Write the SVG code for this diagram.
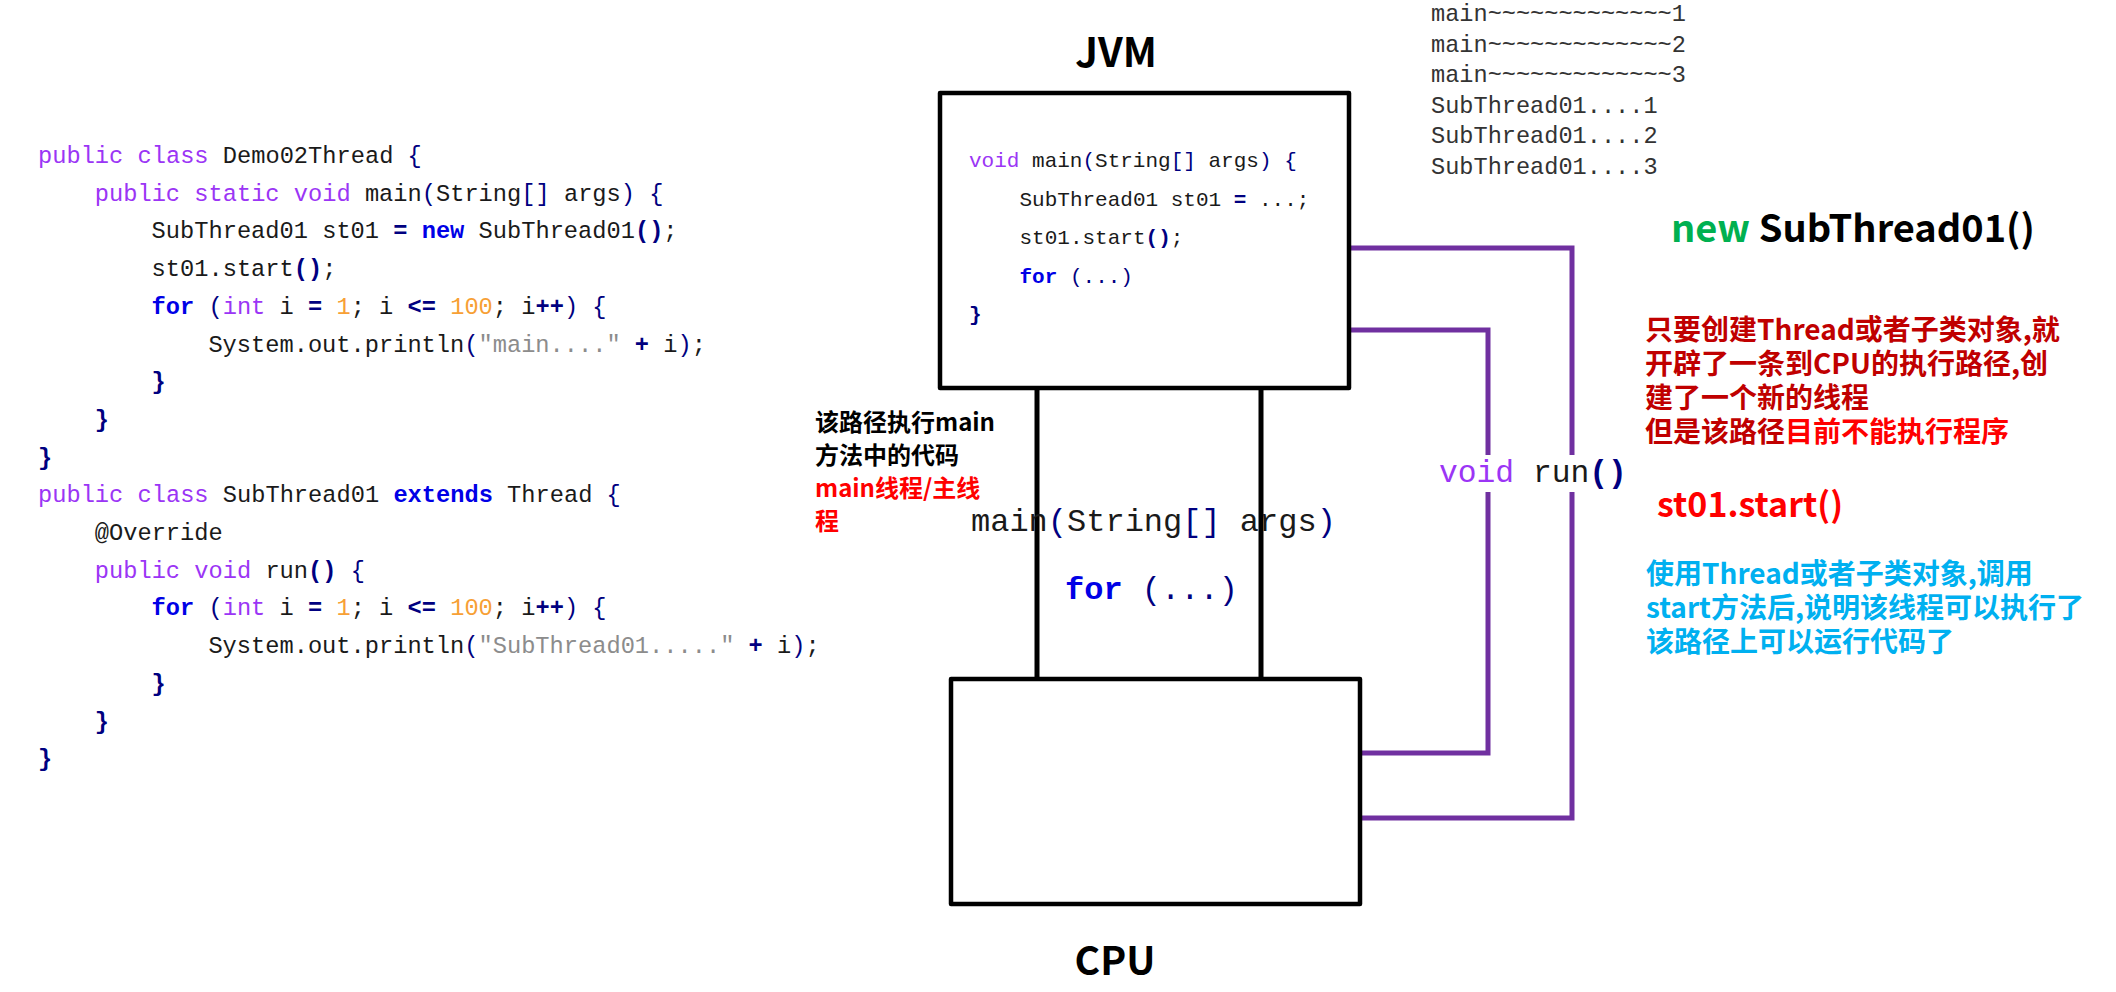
<svg xmlns="http://www.w3.org/2000/svg" width="2116" height="992" viewBox="0 0 2116 992">
<style>
.mono{font-family:"Liberation Mono","DejaVu Sans Mono",monospace;fill:#1a1a1a}
.kw{fill:#9b35f5}
.kb{fill:#0000e6;font-weight:bold}
.num{fill:#f7a035}
.str{fill:#8c8c8c}
.op{fill:#000080;font-weight:bold}
.pn{fill:#000080}
.cjk{font-family:"Noto Sans CJK SC","Noto Sans",sans-serif;font-weight:bold}
.box{fill:#ffffff;stroke:#000000;stroke-width:4.5;stroke-linejoin:round}
.wire{fill:none;stroke:#000000;stroke-width:5}
.pwire{fill:none;stroke:#7030A0;stroke-width:5}
.out{font-family:"Liberation Mono","DejaVu Sans Mono",monospace;font-size:23.6px;fill:#333333}
</style>
<rect x="0" y="0" width="2116" height="992" fill="#ffffff"/>

<g id="code-left" class="mono" font-size="23.7">
<text x="38" y="163"><tspan class="kw">public class</tspan> Demo02Thread <tspan class="pn">{</tspan></text>
<text x="94.8" y="200.7"><tspan class="kw">public static void</tspan> main<tspan class="pn">(</tspan>String<tspan class="pn">[]</tspan> args<tspan class="pn">)</tspan> <tspan class="pn">{</tspan></text>
<text x="151.6" y="238.4">SubThread01 st01 <tspan class="op">=</tspan> <tspan class="kb">new</tspan> SubThread01<tspan class="op">()</tspan>;</text>
<text x="151.6" y="276.1">st01.start<tspan class="op">()</tspan>;</text>
<text x="151.6" y="313.8"><tspan class="kb">for</tspan> <tspan class="pn">(</tspan><tspan class="kw">int</tspan> i <tspan class="op">=</tspan> <tspan class="num">1</tspan>; i <tspan class="op">&lt;=</tspan> <tspan class="num">100</tspan>; i<tspan class="op">++</tspan><tspan class="pn">)</tspan> <tspan class="pn">{</tspan></text>
<text x="208.4" y="351.5">System.out.println<tspan class="pn">(</tspan><tspan class="str">"main...."</tspan> <tspan class="op">+</tspan> i<tspan class="pn">)</tspan>;</text>
<text x="151.6" y="389.2" class="op">}</text>
<text x="94.8" y="426.9" class="op">}</text>
<text x="38" y="464.6" class="op">}</text>
<text x="38" y="502.3"><tspan class="kw">public class</tspan> SubThread01 <tspan class="kb">extends</tspan> Thread <tspan class="pn">{</tspan></text>
<text x="94.8" y="540">@Override</text>
<text x="94.8" y="577.7"><tspan class="kw">public void</tspan> run<tspan class="op">()</tspan> <tspan class="pn">{</tspan></text>
<text x="151.6" y="615.4"><tspan class="kb">for</tspan> <tspan class="pn">(</tspan><tspan class="kw">int</tspan> i <tspan class="op">=</tspan> <tspan class="num">1</tspan>; i <tspan class="op">&lt;=</tspan> <tspan class="num">100</tspan>; i<tspan class="op">++</tspan><tspan class="pn">)</tspan> <tspan class="pn">{</tspan></text>
<text x="208.4" y="653.1">System.out.println<tspan class="pn">(</tspan><tspan class="str">"SubThread01....."</tspan> <tspan class="op">+</tspan> i<tspan class="pn">)</tspan>;</text>
<text x="151.6" y="690.8" class="op">}</text>
<text x="94.8" y="728.5" class="op">}</text>
<text x="38" y="766.2" class="op">}</text>
</g>

<g id="output">
<text class="out" x="1431" y="21">main~~~~~~~~~~~~~1</text>
<text class="out" x="1431" y="51.5">main~~~~~~~~~~~~~2</text>
<text class="out" x="1431" y="82">main~~~~~~~~~~~~~3</text>
<text class="out" x="1431" y="112.5">SubThread01....1</text>
<text class="out" x="1431" y="143">SubThread01....2</text>
<text class="out" x="1431" y="173.5">SubThread01....3</text>
</g>

<g id="connectors">
<line class="wire" x1="1037" y1="388" x2="1037" y2="679"/>
<line class="wire" x1="1261" y1="388" x2="1261" y2="679"/>
<path class="pwire" d="M1351 248 H1572 V818 H1362"/>
<path class="pwire" d="M1351 330 H1488 V753 H1362"/>
</g>

<g id="jvm">
<text class="cjk" x="1116" y="67" font-size="40" text-anchor="middle" fill="#000000">JVM</text>
<rect class="box" x="940" y="93" width="409" height="295"/>
<g class="mono" font-size="21">
<text x="969" y="167"><tspan class="kw">void</tspan> main<tspan class="pn">(</tspan>String<tspan class="pn">[]</tspan> args<tspan class="pn">)</tspan> <tspan class="pn">{</tspan></text>
<text x="1019.5" y="205.5">SubThread01 st01 <tspan class="op">=</tspan> ...;</text>
<text x="1019.5" y="244">st01.start<tspan class="op">()</tspan>;</text>
<text x="1019.5" y="282.5"><tspan class="kb">for</tspan> <tspan class="pn">(...)</tspan></text>
<text x="969" y="321" class="op">}</text>
</g>
</g>

<g id="cpu">
<rect class="box" x="951" y="679" width="409" height="225"/>
<text class="cjk" x="1115" y="975" font-size="39" text-anchor="middle" fill="#000000">CPU</text>
</g>

<g id="main-path-label" class="mono" font-size="32">
<text x="971" y="531">main<tspan class="pn">(</tspan>String<tspan class="pn">[]</tspan> args<tspan class="pn">)</tspan></text>
<text x="1065" y="599"><tspan class="kb">for</tspan> <tspan class="pn">(...)</tspan></text>
</g>

<g id="run-label">
<rect x="1436" y="455" width="192" height="37" fill="#ffffff"/>
<text class="mono" font-size="31.3" x="1439" y="482"><tspan class="kw">void</tspan> run<tspan class="op">()</tspan></text>
</g>

<g id="notes" class="cjk">
<text x="815" y="431" font-size="24" fill="#000000">该路径执行main</text>
<text x="815" y="464" font-size="24" fill="#000000">方法中的代码</text>
<text x="815" y="497" font-size="24" fill="#ff0000">main线程/主线</text>
<text x="815" y="530" font-size="24" fill="#ff0000">程</text>

<text x="1671" y="242" font-size="38" fill="#000000"><tspan fill="#00b050">new</tspan> SubThread01()</text>

<text x="1645" y="340" font-size="28" fill="#c00000">只要创建Thread或者子类对象,就</text>
<text x="1645" y="374" font-size="28" fill="#c00000">开辟了一条到CPU的执行路径,创</text>
<text x="1645" y="408" font-size="28" fill="#c00000">建了一个新的线程</text>
<text x="1645" y="442" font-size="28" fill="#c00000">但是该路径<tspan fill="#ff0000">目前不能执行程序</tspan></text>

<text x="1657" y="517" font-size="34" fill="#ff0000">st01.start()</text>

<text x="1646" y="584" font-size="28" fill="#00b0f0">使用Thread或者子类对象,调用</text>
<text x="1646" y="618" font-size="28" fill="#00b0f0">start方法后,说明该线程可以执行了</text>
<text x="1646" y="652" font-size="28" fill="#00b0f0">该路径上可以运行代码了</text>
</g>
</svg>
